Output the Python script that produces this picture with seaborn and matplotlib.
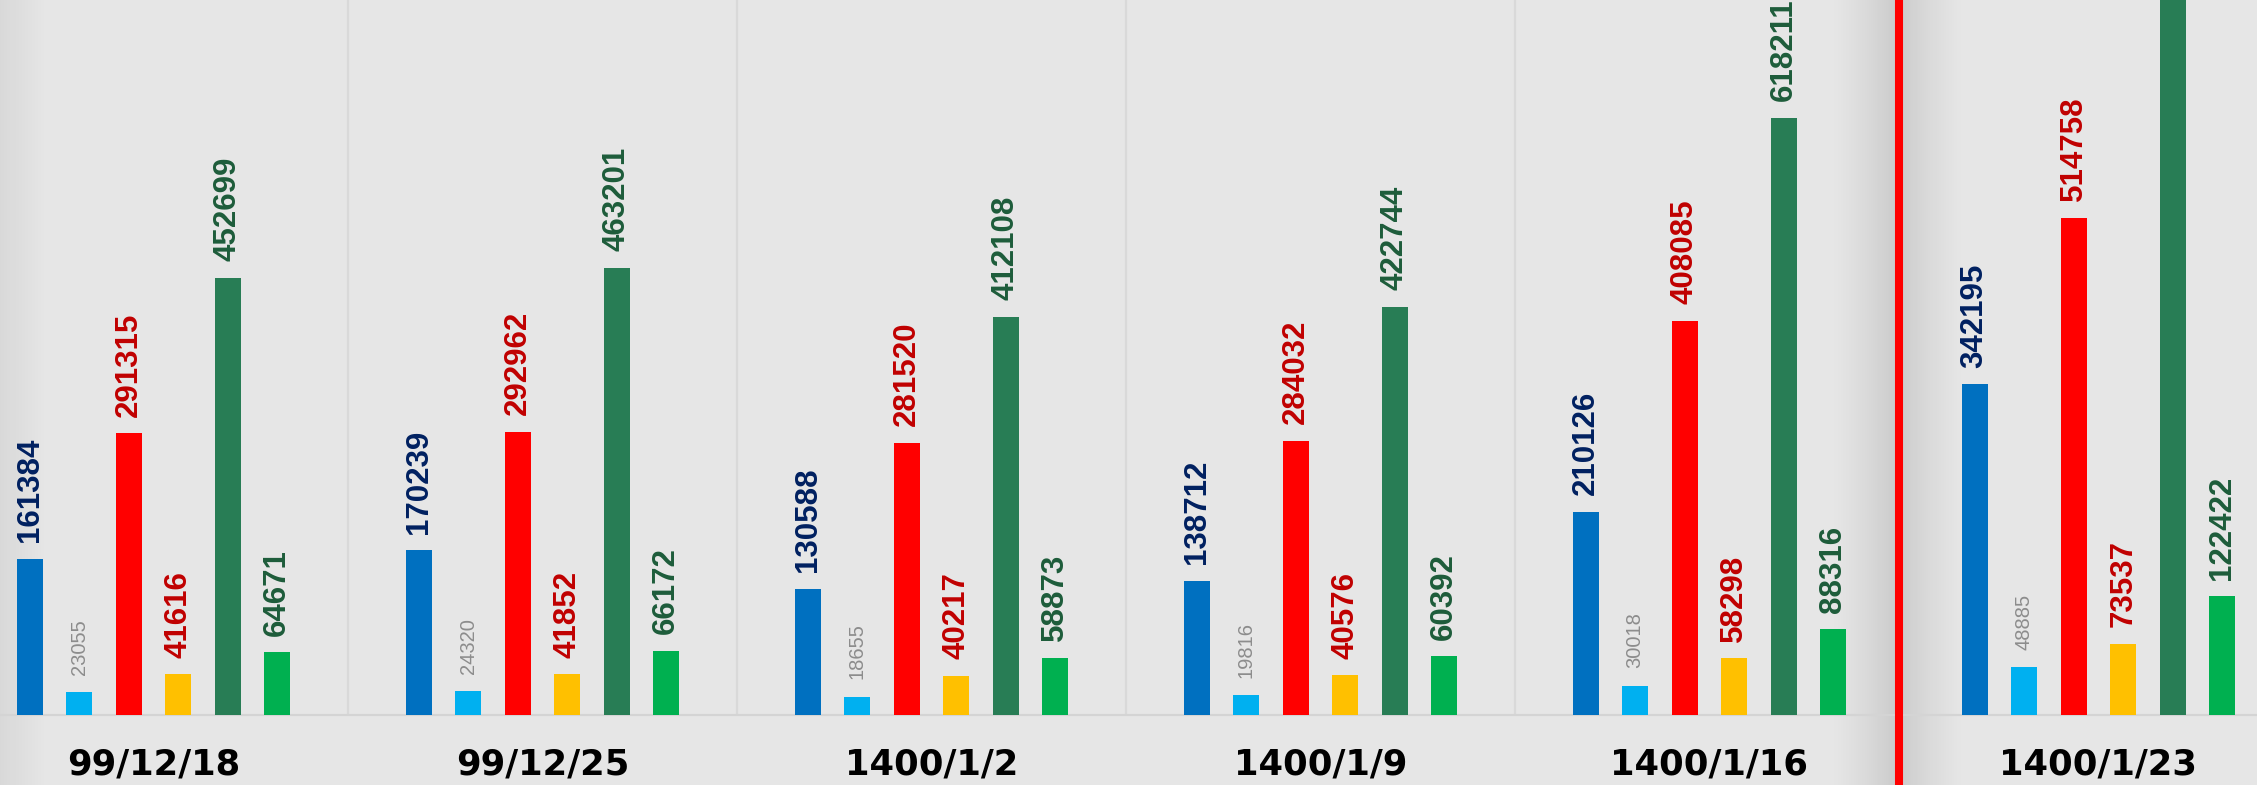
import numpy as np
import pandas as pd
import matplotlib
matplotlib.use("Agg")
import matplotlib.pyplot as plt
import seaborn as sns

# --------------------------------------------------
# data
dates = ["99/12/18", "99/12/25", "1400/1/2", "1400/1/9", "1400/1/16", "1400/1/23"]
series = ["s1", "s2", "s3", "s4", "s5", "s6"]

s1_vals = [161384, 170239, 130588, 138712, 210126, 342195]
s2_vals = [23055, 24320, 18655, 19816, 30018, 48885]
s3_vals = [291315, 292962, 281520, 284032, 408085, 514758]
s4_vals = [41616, 41852, 40217, 40576, 58298, 73537]
s5_vals = [452699, 463201, 412108, 422744, 618211, 790000]   # last one is cut off in the picture
s6_vals = [64671, 66172, 58873, 60392, 88316, 122422]

bar_colors = ["#0070c0", "#00b0f0", "#ff0000", "#ffc000", "#287d55", "#00b050"]
label_colors = ["#002060", "#8c8c8c", "#c00000", "#c00000", "#1d5c3a", "#1d5c3a"]

# --------------------------------------------------
rows = []
for name, vals in zip(series, [s1_vals, s2_vals, s3_vals, s4_vals, s5_vals, s6_vals]):
    for d, v in zip(dates, vals):
        rows.append({"date": d, "series": name, "value": v})
df = pd.DataFrame(rows)

BG = "#e6e6e6"
plt.rcParams["font.family"] = ["Liberation Sans", "DejaVu Sans"]

fig = plt.figure(figsize=(22.57, 7.85), dpi=100, facecolor=BG)
ax = fig.add_axes([0, 0, 1, 1])
ax.set_facecolor(BG)

sns.barplot(data=df, x="date", y="value", hue="series", order=dates, hue_order=series,
            palette=bar_colors, saturation=1, width=0.764, gap=0.475,
            linewidth=0, legend=False, ax=ax, zorder=3)

YMIN, YMAX = -73000, 740600
XMIN, XMAX = -0.3946, 5.4075
ax.set_xlim(XMIN, XMAX)
ax.set_ylim(YMIN, YMAX)

# value labels
for cont, col, name in zip(ax.containers, label_colors, series):
    if name == "s2":
        ax.bar_label(cont, fmt="%d", rotation=90, padding=12.5, color=col,
                     fontsize=14.5, fontweight="light")
    else:
        ax.bar_label(cont, fmt="%d", rotation=90, padding=12, color=col,
                     fontsize=22.5, fontweight="bold")

# group separators + baseline
ax.vlines([0.5, 1.5, 2.5, 3.5], 0, YMAX, color="#d9d9d9", lw=1.6, zorder=1)
ax.axhline(0, color="#d4d4d4", lw=1.6, zorder=1)

# shadow band + red marker line before the last week
split = 4.487
prof = np.linspace(-1, 1, 300)
alpha = 0.12 * np.clip(1 - np.abs(prof), 0, 1) ** 1.3
shade = np.zeros((1, 300, 4))
shade[..., 3] = alpha
ax.imshow(shade, extent=(split - 0.18, split + 0.17, YMIN, YMAX),
          aspect="auto", zorder=0.5, interpolation="bilinear")
ax.axvline(split, color="#ff0000", lw=5.8, zorder=4)

# soft shadow on the left edge
edge = np.zeros((1, 100, 4))
edge[..., 3] = 0.06 * np.linspace(1, 0, 100)
ax.imshow(edge, extent=(XMIN, XMIN + 0.12, YMIN, YMAX),
          aspect="auto", zorder=0.5, interpolation="bilinear")
ax.set_xlim(XMIN, XMAX)
ax.set_ylim(YMIN, YMAX)

# date labels under each group
for i, d in enumerate(dates):
    ax.text(i, -51500, d, ha="center", va="center", fontsize=25.5,
            fontweight="bold", color="black", family="DejaVu Sans")

ax.set_xticks([])
ax.set_yticks([])
ax.set_xlabel("")
ax.set_ylabel("")
for sp in ax.spines.values():
    sp.set_visible(False)

fig.savefig("out.png", dpi=100, facecolor=BG)
